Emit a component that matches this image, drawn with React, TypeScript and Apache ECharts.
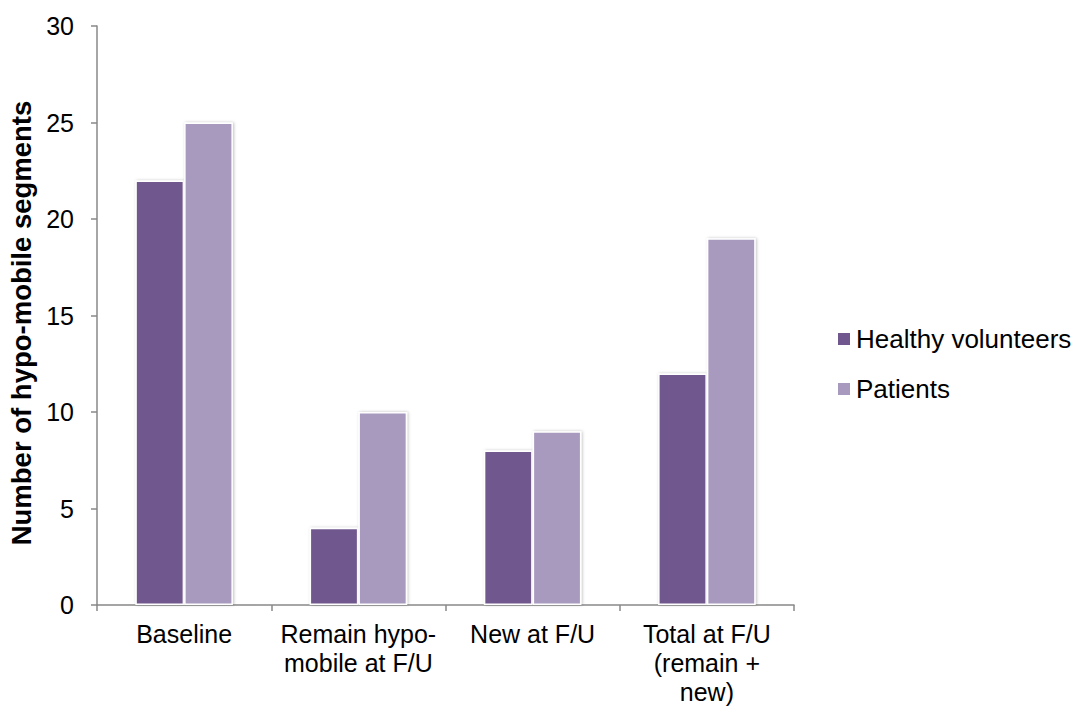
import React, { useEffect, useRef } from "react";
import * as echarts from "echarts";

const categories = ["Baseline", "Remain hypo-\nmobile at F/U", "New at F/U", "Total at F/U\n(remain +\nnew)"];
const healthy = [22, 4, 8, 12];
const patients = [25, 10, 9, 19];
const seriesNames = ["Healthy volunteers", "Patients"];
const yAxisTitle = "Number of hypo-mobile segments";

export default function App() {
  const ref = useRef<HTMLDivElement>(null);
  useEffect(() => {
    const chart = echarts.init(ref.current!, null, { renderer: "svg" });
    const font = "Liberation Sans, Arial, sans-serif";
    const barStyle = (color: string) => ({
      color,
      borderColor: "#ffffff",
      borderWidth: 1.5,
      shadowBlur: 3,
      shadowColor: "rgba(0,0,0,0.25)",
      shadowOffsetX: 1,
      shadowOffsetY: 0,
    });
    chart.setOption({
      animation: false,
      backgroundColor: "#ffffff",
      textStyle: { fontFamily: font },
      grid: { left: 97, right: 284, top: 26, bottom: 106, containLabel: false },
      legend: {
        orient: "vertical",
        left: 831,
        top: 321,
        itemWidth: 14,
        itemHeight: 14,
        itemGap: 24,
        icon: "rect",
        textStyle: { fontSize: 26, color: "#000", fontFamily: font },
        data: seriesNames,
      },
      graphic: [
        {
          type: "text",
          x: 21,
          y: 323,
          rotation: Math.PI / 2,
          style: {
            text: yAxisTitle,
            fontSize: 27.5,
            fontWeight: "bold",
            fill: "#000",
            fontFamily: font,
            align: "center",
            verticalAlign: "middle",
          },
        },
      ],
      xAxis: {
        type: "category",
        data: categories,
        axisLine: { lineStyle: { color: "#888", width: 1.5 } },
        axisTick: { show: true, length: 6, lineStyle: { color: "#888", width: 1.5 } },
        axisLabel: { fontSize: 25, color: "#000", margin: 14, lineHeight: 29, fontFamily: font, interval: 0 },
      },
      yAxis: {
        type: "value",
        min: 0,
        max: 30,
        interval: 5,
        axisLine: { show: true, lineStyle: { color: "#888", width: 1.5 } },
        axisTick: { show: true, length: 6, lineStyle: { color: "#888", width: 1.5 } },
        splitLine: { show: false },
        axisLabel: { fontSize: 25, color: "#000", margin: 23, fontFamily: font },
      },
      series: [
        {
          name: seriesNames[0],
          type: "bar",
          data: healthy,
          barGap: "0%",
          barCategoryGap: "44%",
          itemStyle: barStyle("#70588E"),
        },
        {
          name: seriesNames[1],
          type: "bar",
          data: patients,
          barGap: "0%",
          barCategoryGap: "44%",
          itemStyle: barStyle("#A89ABE"),
        },
      ],
    });
    return () => chart.dispose();
  }, []);
  return <div ref={ref} style={{ width: 1078, height: 711, position: "absolute", left: 0, top: 0 }} />;
}
